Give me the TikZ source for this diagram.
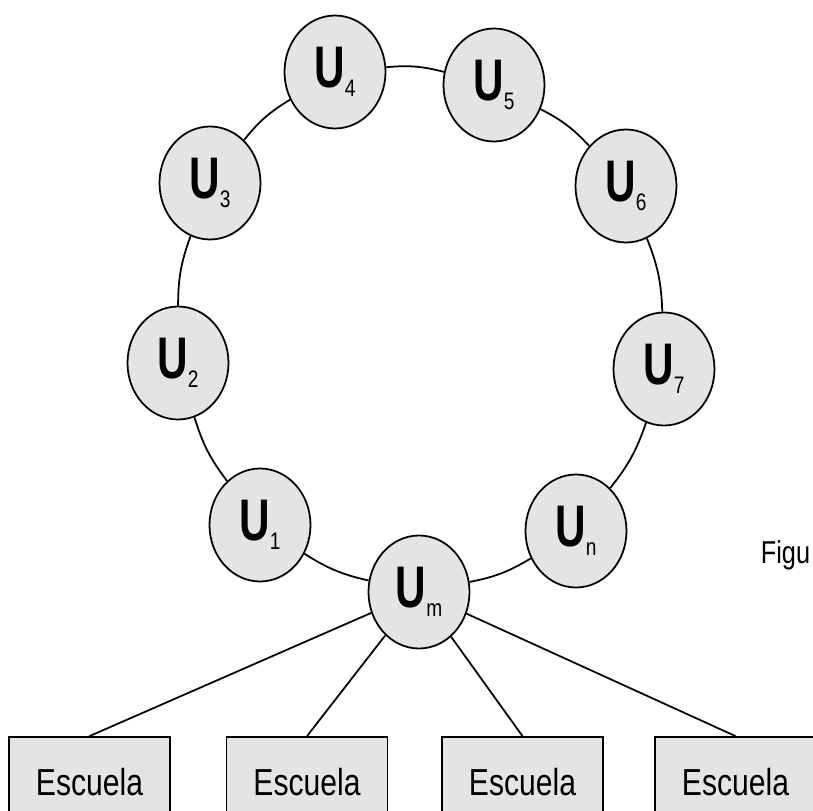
\documentclass[tikz,border=0pt]{standalone}
\usepackage{fontspec}
\setmainfont[FakeStretch=0.8]{Liberation Sans}
\newfontfamily\bigufont[FakeStretch=0.72]{Liberation Sans}
\usetikzlibrary{%
  shapes,% wg. ellipse
  positioning%
}
\definecolor{cellgray}{RGB}{228,228,228}
% U with a small lowered index
\newcommand{\Ulabel}[1]{{\bigufont\bfseries\fontsize{16.7}{18}\selectfont U}\raisebox{-2.6pt}{\fontsize{6.8}{8}\selectfont #1}}

\begin{document}
\begin{tikzpicture}
[draw=black, line width=0.5pt,
user/.style={ellipse, draw, fill=cellgray, inner sep=0pt, minimum width=1.01cm, minimum height=1.13cm},
school/.style={rectangle, draw, fill=cellgray, inner sep=0pt, minimum width=1.61cm, minimum height=0.9cm, font=\fontsize{10.7}{12}\selectfont}]

\useasboundingbox (0,0) rectangle (8.13,-8.11);

% the ring
\node[user] (u4) at (3.35,-0.72) {\Ulabel{4}};
\node[user] (u5) at (4.94,-0.85) {\Ulabel{5}};
\node[user] (u3) at (2.10,-1.83) {\Ulabel{3}};
\node[user] (u6) at (6.26,-1.86) {\Ulabel{6}};
\node[user] (u2) at (1.78,-3.63) {\Ulabel{2}};
\node[user] (u7) at (6.64,-3.69) {\Ulabel{7}};
\node[user] (u1) at (2.60,-5.25) {\Ulabel{1}};
\node[user] (un) at (5.76,-5.31) {\Ulabel{n}};
\node[user] (um) at (4.19,-5.92) {\Ulabel{m}};

\foreach \from/\to in {um/u1,u1/u2,u2/u3,u3/u4,u4/u5,u5/u6,u6/u7,u7/un,un/um}
  \draw (\from) to[bend left=10] (\to);

% schools below
\node[school] (e1) at (0.895,-7.82) {Escuela};
\node[school] (e2) at (3.07,-7.82) {Escuela};
\node[school] (e3) at (5.225,-7.82) {Escuela};
\node[school] (e4) at (7.355,-7.82) {Escuela};

\draw (um) -- (e1.north);
\draw (um) -- (e2.north);
\draw (um) -- (e3.north);
\draw (um) -- (e4.north);

\node[anchor=base west, inner sep=0pt, font=\fontsize{9}{11}\selectfont] (caption) at (7.60,-5.64) {Figu};

\end{tikzpicture}
\end{document}
